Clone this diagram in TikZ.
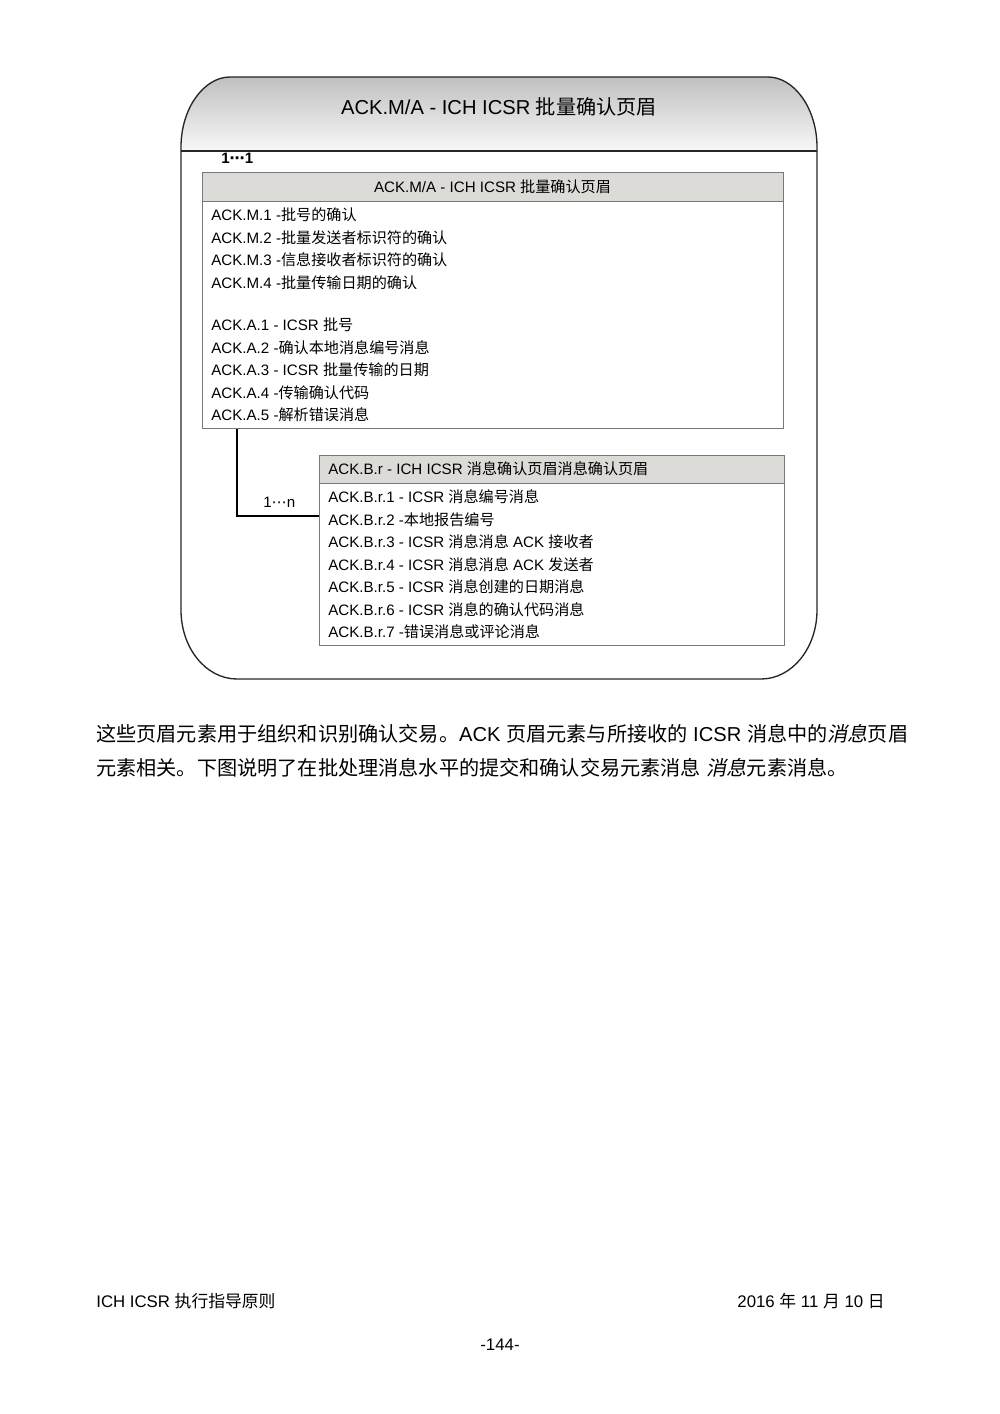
\documentclass[tikz,border=0pt]{standalone}
\usepackage{fontspec}
\setmainfont{Liberation Sans}
\newfontfamily\cjk{Noto Sans CJK SC}
\newfontfamily\cjkit[FakeSlant=0.2]{Noto Sans CJK SC}
\newfontfamily\dv{DejaVu Sans}
\newcommand{\C}[1]{{\cjk #1}}
\newcommand{\CI}[1]{{\cjkit #1}}
\definecolor{hdrfill}{RGB}{220,219,215}
\definecolor{boxline}{RGB}{120,120,120}
\definecolor{shtop}{RGB}{192,192,192}
\definecolor{shbot}{RGB}{248,248,248}
\tikzset{
  px/.style={x=0.5953pt,y=-0.5953pt},
  txt/.style={anchor=base west,inner sep=0pt,font=\fontsize{9}{11}\selectfont},
  ctxt/.style={anchor=base,inner sep=0pt},
  boxnode/.style={draw=boxline,line width=0.6pt,rectangle,inner sep=0pt,anchor=north west},
  conn/.style={line width=1.2pt,black},
  outer/.style={draw=black!85,line width=0.8pt},
}
\begin{document}
\begin{tikzpicture}[px]
\useasboundingbox (0,0) rectangle (1000,1414);
% outer rounded frame
\shade[top color=shtop,bottom color=shbot]
  (181,151) -- (181,147) .. controls (181,108.3) and (204,77) .. (230,77)
  -- (768,77) .. controls (794,77) and (817,108.3) .. (817,147) -- (817,151) -- cycle;
\draw[outer] (181,151) -- (181,147) .. controls (181,108.3) and (204,77) .. (230,77)
  -- (768,77) .. controls (794,77) and (817,108.3) .. (817,147)
  -- (817,610) .. controls (817,648.1) and (792,679) .. (761,679)
  -- (237,679) .. controls (206,679) and (181,648.1) .. (181,610) -- cycle;
\draw[outer] (181,151) -- (817,151);
\node[ctxt,font=\fontsize{12}{14}\selectfont] (title) at (499,114) {ACK.M/A - ICH ICSR \C{批量确认页眉}};
\node[txt,font=\bfseries\fontsize{9}{11}\selectfont] (m1) at (221,163) {1{\dv\bfseries ⋯}1};
% box 1
\fill[hdrfill] (202,172) rectangle (783,201);
\draw[boxline,line width=0.6pt] (202,201) -- (783,201);
\node[boxnode,minimum width=345.87pt,minimum height=152.4pt] (b1) at (202,172) {};
\node[ctxt,font=\fontsize{9}{11}\selectfont] (h1) at (492.5,192) {ACK.M/A - ICH ICSR \C{批量确认页眉}};
\node[txt] (l1) at (211,220.5) {ACK.M.1 -\C{批号的确认}};
\node[txt] (l2) at (211,243) {ACK.M.2 -\C{批量发送者标识符的确认}};
\node[txt] (l3) at (211,265.5) {ACK.M.3 -\C{信息接收者标识符的确认}};
\node[txt] (l4) at (211,288) {ACK.M.4 -\C{批量传输日期的确认}};
\node[txt] (l5) at (211,330.5) {ACK.A.1 - ICSR \C{批号}};
\node[txt] (l6) at (211,353) {ACK.A.2 -\C{确认本地消息编号消息}};
\node[txt] (l7) at (211,375.5) {ACK.A.3 - ICSR \C{批量传输的日期}};
\node[txt] (l8) at (211,398) {ACK.A.4 -\C{传输确认代码}};
\node[txt] (l9) at (211,420.5) {ACK.A.5 -\C{解析错误消息}};
% box 2
\fill[hdrfill] (319,455) rectangle (784,483);
\draw[boxline,line width=0.6pt] (319,483) -- (784,483);
\node[boxnode,minimum width=276.8pt,minimum height=113.1pt] (b2) at (319,455) {};
\node[txt] (h2) at (328,474.5) {ACK.B.r - ICH ICSR \C{消息确认页眉消息确认页眉}};
\node[txt] (r1) at (328,502.5) {ACK.B.r.1 - ICSR \C{消息编号消息}};
\node[txt] (r2) at (328,525) {ACK.B.r.2 -\C{本地报告编号}};
\node[txt] (r3) at (328,547.5) {ACK.B.r.3 - ICSR \C{消息消息} ACK \C{接收者}};
\node[txt] (r4) at (328,570) {ACK.B.r.4 - ICSR \C{消息消息} ACK \C{发送者}};
\node[txt] (r5) at (328,592.5) {ACK.B.r.5 - ICSR \C{消息创建的日期消息}};
\node[txt] (r6) at (328,615) {ACK.B.r.6 - ICSR \C{消息的确认代码消息}};
\node[txt] (r7) at (328,637.5) {ACK.B.r.7 -\C{错误消息或评论消息}};
% connector
\draw[conn] (b1.south west) ++(35,0) |- ([yshift=-61*0.5953pt]b2.north west);
\node[txt] (n1) at (263,507) {1{\dv ⋯}n};
% paragraph
\node[txt,font=\fontsize{12}{14}\selectfont] (p1) at (96,741) {\C{这些页眉元素用于组织和识别确认交易。}ACK \C{页眉元素与所接收的} ICSR \C{消息中的}\CI{消息}\C{页眉}};
\node[txt,font=\fontsize{12}{14}\selectfont] (p2) at (96,775) {\C{元素相关。下图说明了在批处理消息水平的提交和确认交易元素消息} \CI{消息}\C{元素消息。}};
% footer
\node[txt,font=\fontsize{10}{12}\selectfont] (f1) at (96,1307) {ICH ICSR \C{执行指导原则}};
\node[anchor=base east,inner sep=0pt,font=\fontsize{10}{12}\selectfont] (f2) at (885,1307) {2016 \C{年} 11 \C{月} 10 \C{日}};
\node[ctxt,font=\fontsize{10}{12}\selectfont] (f3) at (500,1350) {-144-};
\end{tikzpicture}
\end{document}
